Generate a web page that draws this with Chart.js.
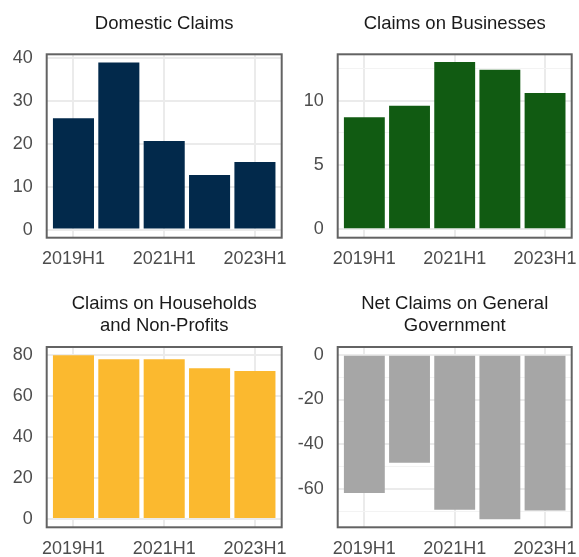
<!DOCTYPE html>
<html>
<head>
<meta charset="utf-8">
<script src="https://cdn.jsdelivr.net/npm/chart.js@4/dist/chart.umd.min.js"></script>
<style>
  body { margin: 0; background: #fff; }
  #wrap { position: relative; width: 579px; height: 557px; }
  canvas { position: absolute; }
</style>
</head>
<body>
<div id="wrap">
  <canvas id="c1" width="290" height="280" style="left:0;top:0"></canvas>
  <canvas id="c2" width="289" height="280" style="left:290px;top:0"></canvas>
  <canvas id="c3" width="290" height="277" style="left:0;top:280px"></canvas>
  <canvas id="c4" width="289" height="277" style="left:290px;top:280px"></canvas>
</div>
<script>
// data
const periods = ["2019H1", "2020H1", "2021H1", "2022H1", "2023H1"];
const periodTicks = ["2019H1", "2021H1", "2023H1"];

const domestic = [25.9, 38.9, 20.6, 12.7, 15.7];
const businesses = [8.7, 9.6, 13.0, 12.4, 10.6];
const households = [79.7, 77.7, 77.7, 73.4, 72.0];
const government = [-61.8, -48.3, -69.4, -73.6, -69.7];

const domesticTicks = [0, 10, 20, 30, 40];
const businessTicks = [0, 5, 10];
const householdTicks = [0, 20, 40, 60, 80];
const governmentTicks = [-60, -40, -20, 0];

const font = { family: "'Liberation Sans', Arial, sans-serif", size: 18 };
const titleSize = 18.5;

// panel border like ggplot's theme_bw
const framePlugin = {
  id: "frame",
  afterDraw(chart) {
    const { ctx, chartArea: a } = chart;
    ctx.save();
    ctx.strokeStyle = "#636363";
    ctx.lineWidth = 2;
    ctx.strokeRect(a.left, a.top, a.right - a.left, a.bottom - a.top);
    ctx.restore();
  }
};

// minor gridlines halfway between the labelled ones
function minorTicks(majors, min, max) {
  const step = majors[1] - majors[0];
  const out = [];
  for (let v = majors[0] - step / 2; v <= max; v += step) {
    if (v >= min) out.push(v);
  }
  return out;
}

function makeChart(id, title, values, color, majors, yMin, yMax, box) {
  const canvas = document.getElementById(id);
  const w = canvas.width, h = canvas.height;
  const lines = Array.isArray(title) ? title.length : 1;
  const lh = titleSize * 1.2;
  const allTicks = majors.concat(minorTicks(majors, yMin, yMax)).sort((a, b) => a - b);

  return new Chart(canvas, {
    type: "bar",
    data: {
      datasets: [{
        data: periods.map((p, i) => ({ x: i, y: values[i] })),
        backgroundColor: color,
        barPercentage: 0.905,
        categoryPercentage: 1.0
      }]
    },
    options: {
      responsive: false,
      animation: false,
      devicePixelRatio: 1,
      layout: { padding: { left: 0, right: w - box.right, top: 0, bottom: 0 } },
      plugins: {
        legend: { display: false },
        tooltip: { enabled: false },
        title: {
          display: true,
          text: title,
          fullSize: false,
          color: "#1A1A1A",
          font: { family: font.family, size: titleSize, weight: "normal", lineHeight: 1.2 },
          padding: { top: box.titleTop, bottom: box.top - box.titleTop - lines * lh }
        }
      },
      scales: {
        x: {
          type: "linear",
          offset: false,
          min: -0.59,
          max: 4.59,
          afterBuildTicks: s => { s.ticks = periodTicks.map(p => ({ value: periods.indexOf(p) })); },
          afterFit: s => {
            s.height = h - box.bottom;
            s.paddingLeft = 0;
            s.paddingRight = 0;
          },
          ticks: {
            callback: v => periods[v],
            autoSkip: false,
            maxRotation: 0,
            padding: 11,
            color: "#4D4D4D",
            font: font
          },
          grid: { color: "#EBEBEB", lineWidth: 2, drawTicks: false, offset: false },
          border: { display: false }
        },
        y: {
          min: yMin,
          max: yMax,
          afterBuildTicks: s => { s.ticks = allTicks.map(v => ({ value: v })); },
          afterFit: s => {
            s.width = box.left;
            s.paddingTop = 0;
            s.paddingBottom = 0;
          },
          ticks: {
            callback: v => majors.includes(v) ? String(v) : "",
            padding: 14,
            color: "#4D4D4D",
            font: font
          },
          grid: {
            color: c => (c.tick && majors.includes(c.tick.value)) ? "#EBEBEB" : "#F3F3F3",
            lineWidth: c => (c.tick && majors.includes(c.tick.value)) ? 2 : 1,
            drawTicks: false
          },
          border: { display: false }
        }
      }
    },
    plugins: [framePlugin]
  });
}

makeChart("c1", "Domestic Claims", domestic, "#02294B", domesticTicks, -1.9, 40.8,
  { left: 46.7, right: 281.7, top: 54.3, bottom: 237.7, titleTop: 12.5 });
makeChart("c2", "Claims on Businesses", businesses, "#115B12", businessTicks, -0.65, 13.6,
  { left: 47.7, right: 281.7, top: 54.3, bottom: 237.7, titleTop: 12.5 });
makeChart("c3", ["Claims on Households", "and Non-Profits"], households, "#FBB92F", householdTicks, -4, 83.7,
  { left: 46.7, right: 281.7, top: 67, bottom: 247.3, titleTop: 12.5 });
makeChart("c4", ["Net Claims on General", "Government"], government, "#A6A6A6", governmentTicks, -77.2, 3.5,
  { left: 47.7, right: 281.7, top: 67, bottom: 247.3, titleTop: 12.5 });
</script>
</body>
</html>
